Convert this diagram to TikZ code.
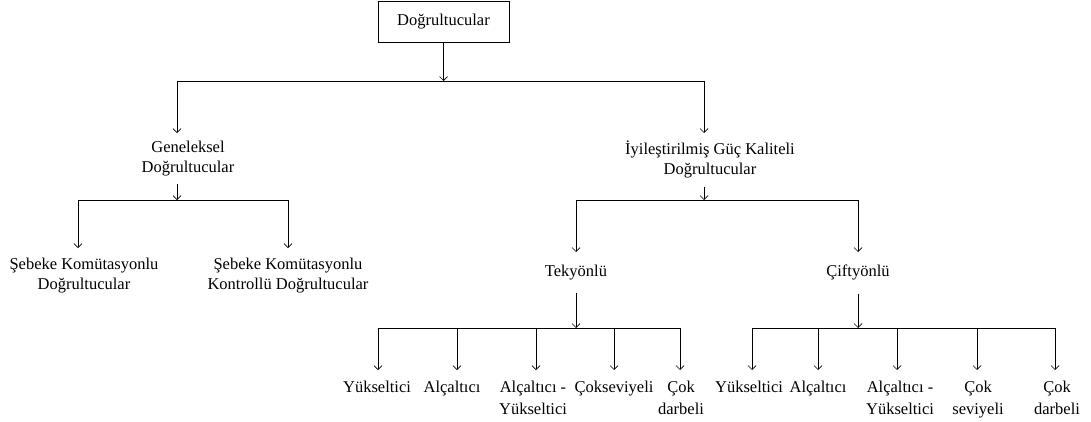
\documentclass[tikz,border=0pt]{standalone}
\usepackage{fontspec}
\setmainfont{Liberation Serif}
\usetikzlibrary{arrows.meta,positioning}

\begin{document}
\begin{tikzpicture}[x=1pt, y=-1pt, font=\fontsize{16.5}{20}\selectfont]

% Styles
\tikzset{
  rootbox/.style={
    draw,
    line width=0.8pt,
    rectangle,
    minimum width=131pt,
    minimum height=41pt
  },
  cls/.style={
    align=center,
    anchor=north,
    inner xsep=0pt,
    inner ysep=8pt
  },
  leaf/.style={
    align=center,
    anchor=north,
    inner xsep=0pt,
    inner ysep=11pt,
    font=\fontsize{16.5}{21.5}\selectfont
  },
  down/.style={
    -{Straight Barb[length=4pt,width=8pt]},
    line width=0.7pt
  },
  bus/.style={
    line width=0.7pt
  }
}

\useasboundingbox (0,0) rectangle (1091,421);

% Root
\node[rootbox] (root) at (443.5,21.5) {Doğrultucular};

% First bus
\coordinate (r0) at (443.5,81);
\coordinate (r1) at (177,81);
\coordinate (r2) at (704,81);

% Second level
\node[cls] (gel) at (188,133) {Geneleksel\\Doğrultucular};
\node[cls] (iyi) at (710,133) {İyileştirilmiş Güç Kaliteli\\Doğrultucular};

\draw[down] (root) -- (r0);
\draw[bus] (r1) -- (r2);
\draw[down] (r1) -- (r1 |- gel.north);
\draw[down] (r2) -- (r2 |- iyi.north);

% Conventional rectifiers
\coordinate (g0) at (177,200);
\coordinate (g1) at (78,200);
\coordinate (g2) at (288,200);

\node[cls, inner ysep=10pt] (sk) at (84,248) {Şebeke Komütasyonlu\\Doğrultucular};
\node[cls, inner ysep=10pt] (skk) at (288,248) {Şebeke Komütasyonlu\\Kontrollü Doğrultucular};

\draw[down] (g0 |- gel.south) -- (g0);
\draw[bus] (g1) -- (g2);
\draw[down] (g1) -- (g1 |- sk.north);
\draw[down] (g2) -- (g2 |- skk.north);

% Improved power quality rectifiers
\coordinate (i0) at (704,200);
\coordinate (i1) at (576,200);
\coordinate (i2) at (858,200);

\node[cls, inner ysep=13pt] (tek) at (576,252) {Tekyönlü};
\node[cls, inner ysep=13pt] (cift) at (858,252) {Çiftyönlü};

\draw[down] (i0 |- iyi.south) -- (i0);
\draw[bus] (i1) -- (i2);
\draw[down] (i1) -- (i1 |- tek.north);
\draw[down] (i2) -- (i2 |- cift.north);

% Unidirectional leaves
\coordinate (t0) at (576,328);
\coordinate (t1) at (378,328);
\coordinate (t2) at (457,328);
\coordinate (t3) at (536,328);
\coordinate (t4) at (614,328);
\coordinate (t5) at (680,328);

\node[leaf] (ty1) at (377,370) {Yükseltici};
\node[leaf] (ty2) at (452,370) {Alçaltıcı};
\node[leaf] (ty3) at (533,370) {Alçaltıcı -\\Yükseltici};
\node[leaf] (ty4) at (614,370) {Çokseviyeli};
\node[leaf] (ty5) at (681,370) {Çok\\darbeli};

\draw[down] (t0 |- tek.south) -- (t0);
\draw[bus] (t1) -- (t5);
\draw[down] (t1) -- (t1 |- ty1.north);
\draw[down] (t2) -- (t2 |- ty2.north);
\draw[down] (t3) -- (t3 |- ty3.north);
\draw[down] (t4) -- (t4 |- ty4.north);
\draw[down] (t5) -- (t5 |- ty5.north);

% Bidirectional leaves
\coordinate (c0) at (858,328);
\coordinate (c1) at (752,328);
\coordinate (c2) at (818,328);
\coordinate (c3) at (897,328);
\coordinate (c4) at (977,328);
\coordinate (c5) at (1055,328);

\node[leaf] (cy1) at (749,370) {Yükseltici};
\node[leaf] (cy2) at (818,370) {Alçaltıcı};
\node[leaf] (cy3) at (900,370) {Alçaltıcı -\\Yükseltici};
\node[leaf] (cy4) at (978,370) {Çok\\seviyeli};
\node[leaf] (cy5) at (1057,370) {Çok\\darbeli};

\draw[down] (c0 |- cift.south) -- (c0);
\draw[bus] (c1) -- (c5);
\draw[down] (c1) -- (c1 |- cy1.north);
\draw[down] (c2) -- (c2 |- cy2.north);
\draw[down] (c3) -- (c3 |- cy3.north);
\draw[down] (c4) -- (c4 |- cy4.north);
\draw[down] (c5) -- (c5 |- cy5.north);

\end{tikzpicture}
\end{document}
